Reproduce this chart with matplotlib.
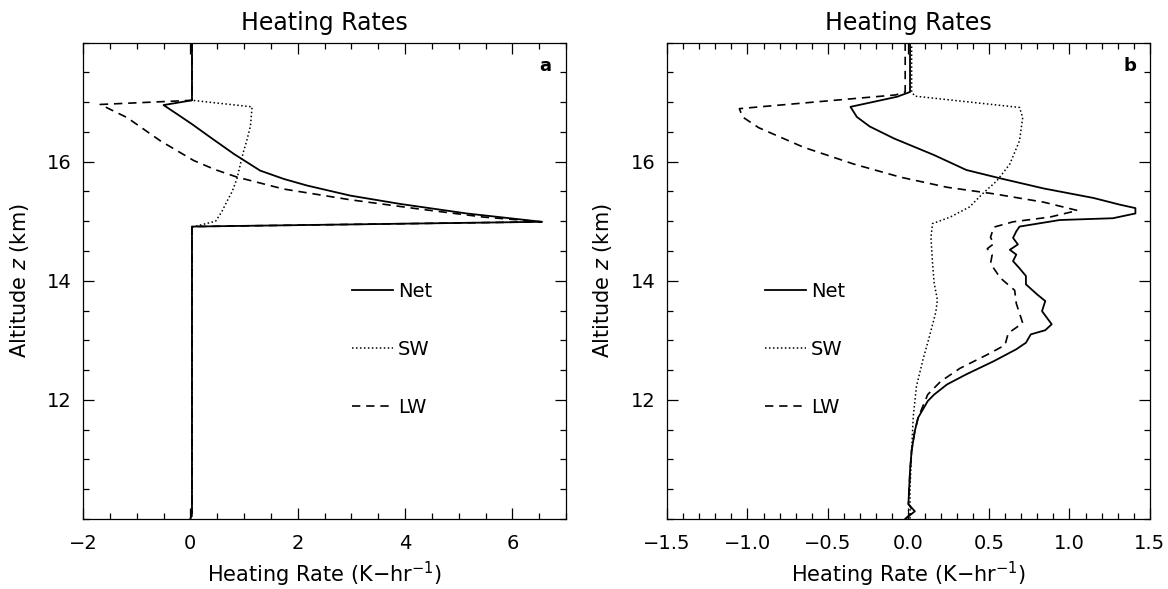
import numpy as np
import matplotlib
matplotlib.use('Agg')
import matplotlib.pyplot as plt
from matplotlib.ticker import MultipleLocator

# Panel a: heating rate (K/hr) vs altitude (km)
a_net_x = [0.03, 0.03, -0.50, -0.25, 0.03, 0.37, 0.81, 1.30, 1.74, 2.17, 2.98, 3.91, 5.15, 6.55,
           0.03, 0.03, 0.0]
a_net_z = [18.0, 17.03, 16.95, 16.80, 16.63, 16.41, 16.13, 15.85, 15.71, 15.60, 15.43, 15.29, 15.13, 14.99,
           14.91, 10.1, 10.0]

a_sw_x = [0.03, 0.03, 1.15, 1.12, 1.05, 0.99, 0.93, 0.87, 0.78, 0.68, 0.58, 0.47, 0.03, 0.03]
a_sw_z = [18.0, 17.03, 16.92, 16.60, 16.35, 16.17, 15.95, 15.72, 15.50, 15.33, 15.15, 15.00, 14.90, 10.0]

a_lw_x = [0.03, 0.03, -1.68, -1.18, -0.56, 0.06, 0.45, 0.87, 1.74, 2.98, 4.22, 5.46, 6.55, 0.03, 0.03, 0.0]
a_lw_z = [18.0, 17.03, 16.96, 16.74, 16.35, 16.02, 15.87, 15.74, 15.54, 15.36, 15.21, 15.07, 14.99, 14.91,
          10.1, 10.0]

# Panel b
b_net_x = [0.01, 0.01, -0.07, -0.36, -0.32, -0.24, -0.09, 0.16, 0.36, 0.57, 0.84, 1.15, 1.31, 1.41,
           1.41, 1.27, 0.94, 0.69, 0.67, 0.65, 0.68, 0.63, 0.67, 0.65, 0.69, 0.73, 0.73, 0.80, 0.85,
           0.83, 0.89, 0.85, 0.76, 0.73, 0.67, 0.53, 0.36, 0.24, 0.16, 0.12, 0.06, 0.04, 0.02, 0.01,
           0.0, 0.04, -0.02]
b_net_z = [18.0, 17.17, 17.09, 16.92, 16.75, 16.59, 16.39, 16.11, 15.86, 15.72, 15.55, 15.39, 15.28, 15.22,
           15.13, 15.05, 15.02, 14.91, 14.83, 14.72, 14.61, 14.52, 14.44, 14.33, 14.21, 14.08, 13.94, 13.77, 13.66,
           13.49, 13.27, 13.17, 13.10, 12.96, 12.85, 12.65, 12.43, 12.26, 12.09, 11.98, 11.70, 11.48, 11.15, 10.81,
           10.25, 10.13, 10.0]

b_sw_x = [0.02, 0.02, 0.04, 0.69, 0.71, 0.69, 0.63, 0.55, 0.46, 0.38, 0.26, 0.15, 0.14, 0.15, 0.16,
          0.18, 0.17, 0.13, 0.09, 0.05, 0.03, 0.02, 0.01, 0.01]
b_sw_z = [18.0, 17.17, 17.10, 16.91, 16.74, 16.35, 15.96, 15.68, 15.46, 15.24, 15.07, 14.96, 14.73, 14.29, 13.96,
          13.68, 13.47, 13.06, 12.67, 12.23, 11.72, 11.15, 10.51, 10.0]

b_lw_x = [-0.02, -0.02, -0.08, -1.05, -1.03, -0.93, -0.65, -0.34, -0.05, 0.24, 0.53, 0.84, 1.05, 0.88,
          0.65, 0.53, 0.51, 0.53, 0.49, 0.52, 0.51, 0.57, 0.66, 0.67, 0.71, 0.62, 0.60, 0.49, 0.32, 0.20,
          0.12, 0.06, 0.04, 0.02, 0.01, 0.0, 0.03, -0.02]
b_lw_z = [18.0, 17.17, 17.12, 16.89, 16.75, 16.57, 16.24, 15.96, 15.74, 15.57, 15.46, 15.32, 15.18, 15.07,
          14.99, 14.90, 14.73, 14.62, 14.54, 14.43, 14.29, 14.05, 13.84, 13.62, 13.29, 13.12, 12.92, 12.76, 12.53, 12.31,
          12.09, 11.70, 11.48, 11.15, 10.81, 10.25, 10.13, 10.0]

series_labels = ['Net', 'SW', 'LW']
panel_tags = ['a', 'b']


def style_axes(ax, xlim, xmajor, xminor, tag):
    ax.set_xlim(*xlim)
    ax.set_ylim(10, 18)
    ax.xaxis.set_major_locator(MultipleLocator(xmajor))
    ax.xaxis.set_minor_locator(MultipleLocator(xminor))
    ax.yaxis.set_major_locator(MultipleLocator(2))
    ax.yaxis.set_minor_locator(MultipleLocator(0.5))
    ax.set_yticks([12, 14, 16])
    ax.tick_params(which='both', direction='in', top=True, right=True, labelsize=14, width=0.9)
    ax.tick_params(which='major', length=8)
    ax.tick_params(which='minor', length=4.5)
    ax.tick_params(axis='x', pad=11)
    ax.tick_params(axis='y', pad=8)
    for s in ax.spines.values():
        s.set_linewidth(0.9)
    ax.set_title('Heating Rates', fontsize=17, pad=9)
    ax.set_xlabel('Heating Rate (K$-$hr$^{-1}$)', fontsize=15, labelpad=5)
    ax.set_ylabel('Altitude $z$ (km)', fontsize=15, labelpad=12)
    ax.text(0.958, 0.95, tag, transform=ax.transAxes, fontsize=13, fontweight='bold',
            ha='center', va='center')


def main():
    plt.rcParams['font.family'] = ['DejaVu Sans']
    fig = plt.figure(figsize=(11.68, 5.89), dpi=100)
    axa = fig.add_axes([0.0711, 0.1188, 0.4135, 0.809])
    axb = fig.add_axes([0.571, 0.1188, 0.4135, 0.809])

    dots = (0, (1, 1.6))
    dash = (0, (5, 3.5))

    for ax, data, xlim, xmaj, xmin, tag, lx in [
            (axa, (a_net_x, a_net_z, a_sw_x, a_sw_z, a_lw_x, a_lw_z), (-2, 7), 2, 0.5, panel_tags[0], 0.557),
            (axb, (b_net_x, b_net_z, b_sw_x, b_sw_z, b_lw_x, b_lw_z), (-1.5, 1.5), 0.5, 0.1, panel_tags[1], 0.203)]:
        nx, nz, sx, sz, lwx, lwz = data
        ax.plot(nx, nz, color='black', lw=1.3, ls='-', label=series_labels[0])
        ax.plot(sx, sz, color='black', lw=1.1, ls=dots, label=series_labels[1])
        ax.plot(lwx, lwz, color='black', lw=1.2, ls=dash, label=series_labels[2])
        style_axes(ax, xlim, xmaj, xmin, tag)
        ax.legend(loc='upper left', bbox_to_anchor=(lx, 0.497), frameon=False, fontsize=14,
                  handlelength=2.1, handletextpad=0.25, labelspacing=2.0,
                  borderpad=0, borderaxespad=0)

    fig.savefig('out.png', dpi=100)


if __name__ == "__main__":
    main()
